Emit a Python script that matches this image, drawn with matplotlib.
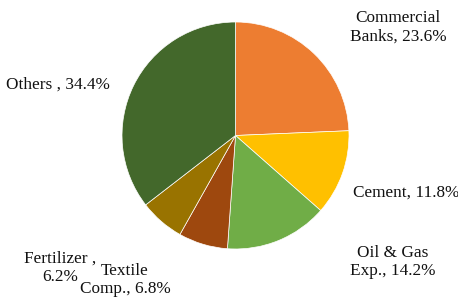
import matplotlib
matplotlib.use("Agg")
import matplotlib.pyplot as plt

# sector shares as printed on the chart (they sum to 97, pie normalises)
labels = ["Commercial\nBanks, 23.6%", "Cement, 11.8%", "Oil & Gas\nExp., 14.2%",
          "Textile\nComp., 6.8%", "Fertilizer ,\n6.2%", "Others , 34.4%"]
shares = [23.6, 11.8, 14.2, 6.8, 6.2, 34.4]
colors = ["#ED7D31", "#FFC000", "#70AD47", "#9E480E", "#997300", "#43682B"]

# label anchor points in pixel space (x right, y down)
label_pos = [(398, 27), (406, 193), (393, 262), (125, 280), (60, 268), (58, 85)]

plt.rcParams["font.family"] = ["Liberation Serif", "DejaVu Serif"]

fig = plt.figure(figsize=(4.58, 3.00), dpi=100)
ax = fig.add_axes([0, 0, 1, 1])

cx, cy, r = 235.5, 300 - 135.5, 113.5
ax.pie(shares, colors=colors, startangle=90, counterclock=False,
       center=(cx, cy), radius=r, frame=True,
       wedgeprops=dict(edgecolor="white", linewidth=0.5))
ax.set_xlim(0, 458)
ax.set_ylim(0, 300)
ax.set_aspect("equal")
ax.axis("off")

# each line drawn on its own so the interleaved bottom labels keep tight boxes
lh = 18.5
for lab, (px, py) in zip(labels, label_pos):
    lines = lab.split("\n")
    y0 = py - lh * (len(lines) - 1) / 2
    for i, ln in enumerate(lines):
        ax.text(px, 300 - (y0 + i * lh), ln, ha="center", va="center",
                fontsize=12.4, color="#111111")

fig.savefig("out.png", dpi=100)
